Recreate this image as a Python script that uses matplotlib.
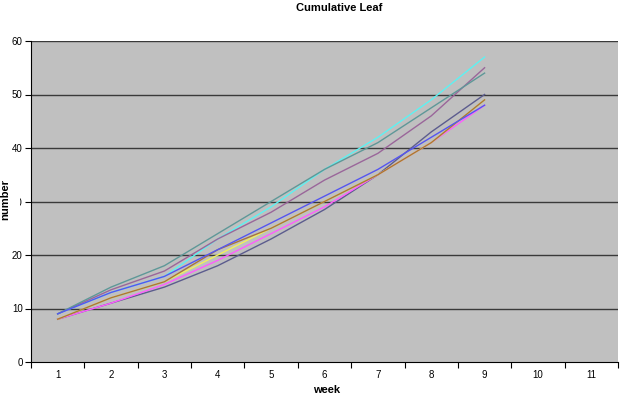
import numpy as np
from matplotlib import pyplot as plt
from matplotlib.patches import Rectangle

plt.rcParams['font.family'] = ['Liberation Sans', 'DejaVu Sans']

weeks = [1, 2, 3, 4, 5, 6, 7, 8, 9]
week_ticks = [1, 2, 3, 4, 5, 6, 7, 8, 9, 10, 11]

# series in Excel drawing order
s1 = [8, 11, 14, 18, 23, 28.5, 35, 43, 50]
s2 = [8, 11, 14.5, 19, 24, 29, 35, 41, 48]
s3 = [8, 12, 15, 20, 25, 30, 35, 41, 49]
s4 = [9, 13, 16, 23, 29, 36, 42, 49, 57]
s5 = [9, 13.5, 17, 23, 28, 34, 39, 46, 55]
s6 = [8, 12, 15, 21, 25, 30, 35, 41, 49]
s7 = [9, 14, 18, 24, 30, 36, 41, 47.5, 54]
s8 = [9, 13, 16, 21, 26, 31, 36, 42, 48]

series = [s1, s2, s3, s4, s5, s6, s7, s8]
colors = ['#5c5c8e', '#ff5cff', '#f2f25a', '#5cf2f2',
          '#9a669a', '#a8743c', '#5e9898', '#5555f0']

fig = plt.figure(figsize=(6.2, 3.97), dpi=100)
ax = fig.add_axes([31/620, 1-362/397, 587/620, 321/397])
ax.set_facecolor('#c0c0c0')

for s, c in zip(series, colors):
    ax.plot(weeks, s, color=c, lw=1.0)

ax.set_xlim(0.5, 11.5)
ax.set_ylim(0, 60)
ax.set_yticks(range(0, 61, 10))
for v in range(10, 61, 10):
    ax.axhline(v, color='#3a3a3a', lw=1.0, zorder=0.5)

ax.set_xticks(week_ticks)
ax.set_xticklabels([str(w) for w in week_ticks])
ax.set_xticks(np.arange(0.5, 11.6, 1), minor=True)
ax.tick_params(axis='x', which='major', length=0, labelsize=7, pad=6)
ax.tick_params(axis='x', which='minor', length=4, width=0.8, direction='out')
ax.tick_params(axis='y', length=4, width=0.8, labelsize=7, pad=2)

for side in ['top', 'right']:
    ax.spines[side].set_visible(False)
ax.spines['left'].set_color('black')
ax.spines['bottom'].set_color('black')

fig.text(339/620, 1-8/397, 'Cumulative Leaf', ha='center', va='center',
         fontsize=8, fontweight='bold')

# in the original the y title's white box hides most of the "30" label
fig.patches.append(Rectangle((0, 1-219/397), 20/620, 40/397,
                             transform=fig.transFigure, facecolor='white',
                             edgecolor='none', zorder=5))
fig.text(5/620, 1-199/397, 'number', rotation=90, ha='center', va='center',
         fontsize=8, fontweight='bold', zorder=6)
fig.text(327/620, 1-390/397, 'week', ha='center', va='center',
         fontsize=8, fontweight='bold')

fig.savefig('out.png', dpi=100)
